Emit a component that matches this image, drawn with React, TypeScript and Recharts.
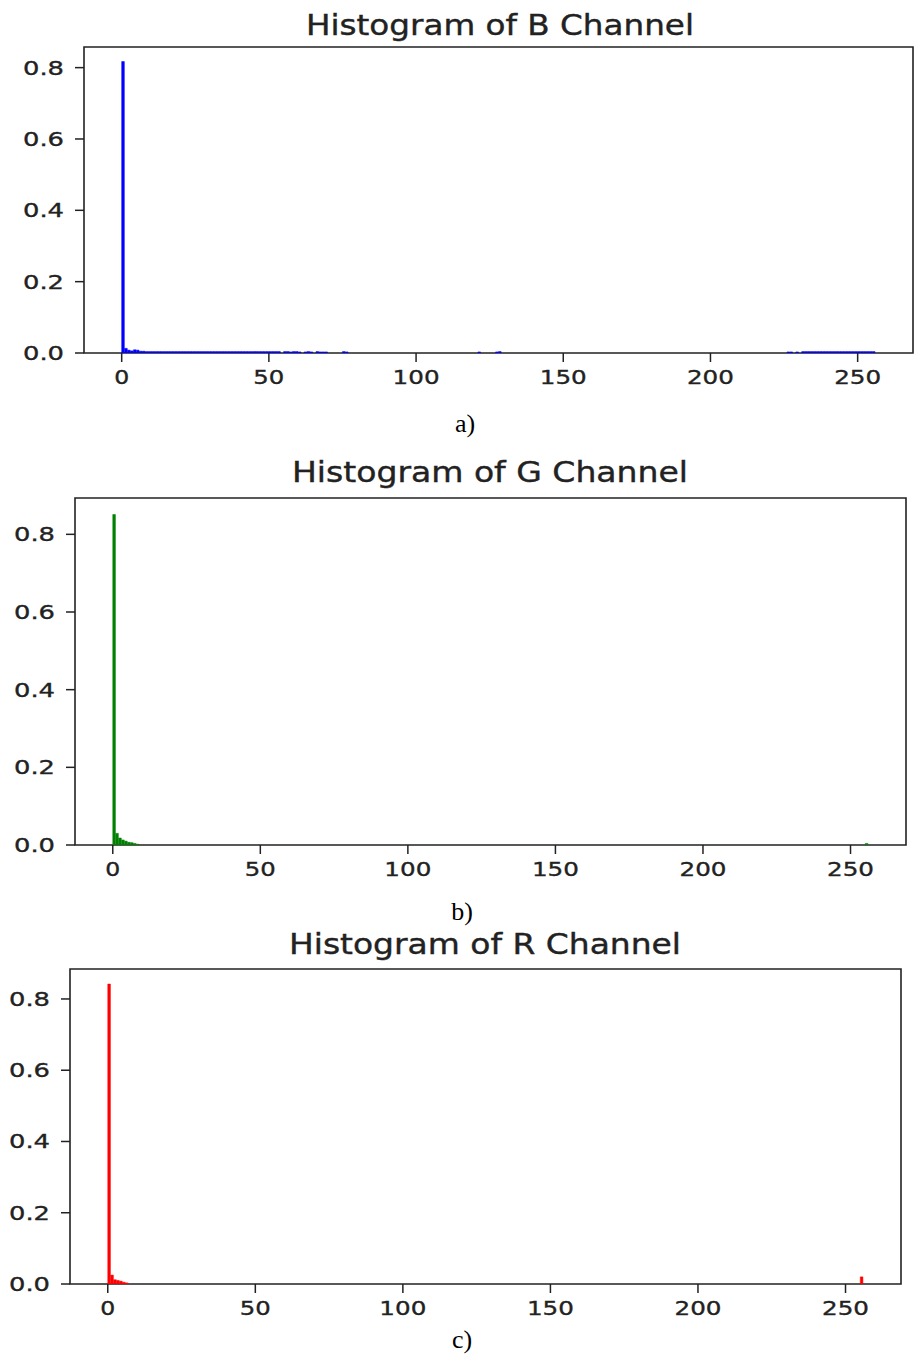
import React from "react";
import { BarChart, Bar, XAxis, YAxis, ReferenceArea } from "recharts";

// ---- data (normalized histogram values, bins are 0..255) ----
const xTicks = [0, 50, 100, 150, 200, 250];
const yTicks = [0, 0.2, 0.4, 0.6, 0.8];
const titles = ["Histogram of B Channel", "Histogram of G Channel", "Histogram of R Channel"];
const captions = ["a)", "b)", "c)"];

const binsB = [
  0, 1, 2, 3, 4, 5, 6, 7, 8, 9, 10, 11, 12, 13, 14, 15, 16, 17, 18, 19, 20, 21, 22, 23, 24, 25, 26, 27, 28, 29,
  30, 31, 32, 33, 34, 35, 36, 37, 38, 39, 40, 41, 42, 43, 44, 45, 46, 47, 48, 49, 50, 51, 52, 53,
  55, 56, 57, 58, 59, 60, 62, 63, 64, 66, 67, 68, 69, 75, 76, 121, 127, 128, 226, 227, 229,
  231, 232, 233, 234, 235, 236, 237, 238, 239, 240, 241, 242, 243, 244, 245, 246, 247, 248, 249, 250,
  251, 252, 253, 254, 255,
];
const valsB = [
  0.817, 0.013, 0.008, 0.006, 0.009, 0.008, 0.005, 0.005, 0.004, 0.004, 0.004, 0.004, 0.004, 0.004, 0.004, 0.004,
  0.004, 0.004, 0.004, 0.004, 0.004, 0.004, 0.004, 0.004, 0.004, 0.004, 0.004, 0.004, 0.004, 0.004,
  0.004, 0.004, 0.004, 0.004, 0.004, 0.004, 0.004, 0.004, 0.004, 0.004, 0.004, 0.004, 0.004, 0.004, 0.004, 0.004,
  0.004, 0.004, 0.004, 0.004, 0.004, 0.004, 0.004, 0.004,
  0.004, 0.004, 0.003, 0.004, 0.004, 0.003, 0.003, 0.004, 0.003, 0.004, 0.003, 0.003, 0.003, 0.004, 0.003,
  0.003, 0.003, 0.004, 0.003, 0.003, 0.003,
  0.004, 0.004, 0.004, 0.004, 0.004, 0.004, 0.004, 0.004, 0.004, 0.004, 0.004, 0.004, 0.004, 0.004, 0.004,
  0.004, 0.004, 0.004, 0.004, 0.004, 0.004, 0.004, 0.004, 0.004, 0.004,
];

const binsG = [0, 1, 2, 3, 4, 5, 6, 7, 8, 255];
const valsG = [0.851, 0.03, 0.018, 0.013, 0.01, 0.007, 0.006, 0.004, 0.002, 0.004];

const binsR = [0, 1, 2, 3, 4, 5, 6, 255];
const valsR = [0.842, 0.025, 0.012, 0.01, 0.008, 0.005, 0.003, 0.02];

const colors = ["#0000ff", "#008000", "#ff0000"];

function buildTable(bins: number[], vals: number[]) {
  const rows: { x: number; v: number }[] = [];
  for (let i = 0; i < 256; i++) rows.push({ x: i + 0.5, v: 0 });
  bins.forEach((b, k) => {
    rows[b].v = vals[k];
  });
  return rows;
}

const tables = [buildTable(binsB, valsB), buildTable(binsG, valsG), buildTable(binsR, valsR)];
const yMaxes = [Math.max(...valsB) * 1.05, Math.max(...valsG) * 1.05, Math.max(...valsR) * 1.05];

// ---- layout (pixel positions of each panel) ----
const panels = [
  { top: 0, height: 400, boxL: 84, boxR: 913, boxT: 47, boxB: 353, barSize: 3 },
  { top: 450, height: 430, boxL: 75, boxR: 906, boxT: 498, boxB: 845, barSize: 3 },
  { top: 920, height: 400, boxL: 70, boxR: 901, boxT: 969, boxB: 1284, barSize: 4 },
];
const titlePos = [
  { cx: 500, y: 35, w: 388 },
  { cx: 490, y: 482, w: 396 },
  { cx: 485, y: 954, w: 392 },
];
const captionPos = [
  { cx: 465, y: 432 },
  { cx: 462, y: 920 },
  { cx: 462, y: 1348 },
];

const INK = "#222";
const FONT = "DejaVu Sans";

const tickWidths: Record<string, number> = { "0": 15, "50": 31, "100": 47, "150": 47, "200": 47, "250": 47 };

const XTick = (props: any) => {
  const { x, y, payload } = props;
  const label = String(payload.value);
  return (
    <text x={x} y={y} dy={20} textAnchor="middle" fontFamily={FONT} fontSize={20} fill={INK}
      stroke={INK} strokeWidth={0.35} textLength={tickWidths[label]} lengthAdjust="spacingAndGlyphs">
      {label}
    </text>
  );
};

const YTick = (props: any) => {
  const { x, y, payload } = props;
  const label = Number(payload.value).toFixed(1);
  return (
    <text x={x} y={y} dy={7} textAnchor="end" fontFamily={FONT} fontSize={20} fill={INK}
      stroke={INK} strokeWidth={0.35} textLength={41} lengthAdjust="spacingAndGlyphs">
      {label}
    </text>
  );
};

const Panel = ({ idx }: { idx: number }) => {
  const p = panels[idx];
  const yMax = yMaxes[idx];
  return (
    <div style={{ position: "absolute", left: 0, top: p.top }}>
      <BarChart
        width={915}
        height={p.height}
        data={tables[idx]}
        margin={{ top: p.boxT - p.top, right: 915 - p.boxR, left: 0, bottom: 0 }}
        barCategoryGap={0}
        barGap={0}
      >
        <XAxis
          type="number"
          dataKey="x"
          domain={[-12.8, 268.8]}
          ticks={xTicks}
          allowDataOverflow
          axisLine={false}
          tickLine={{ stroke: INK, strokeWidth: 1.5 }}
          tickSize={9}
          tickMargin={2}
          tick={<XTick />}
          height={p.top + p.height - p.boxB}
          interval={0}
        />
        <YAxis
          type="number"
          domain={[0, yMax]}
          ticks={yTicks}
          allowDataOverflow
          axisLine={false}
          tickLine={{ stroke: INK, strokeWidth: 1.5 }}
          tickSize={9}
          tickMargin={11}
          tick={<YTick />}
          width={p.boxL}
          interval={0}
        />
        <ReferenceArea x1={-12.8} x2={268.8} y1={0} y2={yMax} fill="none" stroke={INK} strokeWidth={1.6} ifOverflow="visible" />
        <Bar dataKey="v" fill={colors[idx]} stroke={colors[idx]} strokeWidth={0.5} barSize={p.barSize} isAnimationActive={false} />
      </BarChart>
    </div>
  );
};

export default function App() {
  return (
    <div style={{ position: "absolute", left: 0, top: 0, width: 915, height: 1360, background: "#fff", overflow: "hidden" }}>
      {[0, 1, 2].map((i) => (
        <Panel key={i} idx={i} />
      ))}
      <svg width={915} height={1360} style={{ position: "absolute", left: 0, top: 0, pointerEvents: "none" }}>
        {titles.map((t, i) => (
          <text key={t} x={titlePos[i].cx} y={titlePos[i].y} textAnchor="middle" fontFamily={FONT} fontSize={29}
            fill={INK} stroke={INK} strokeWidth={0.4} textLength={titlePos[i].w} lengthAdjust="spacingAndGlyphs">
            {t}
          </text>
        ))}
        {captions.map((c, i) => (
          <text key={c} x={captionPos[i].cx} y={captionPos[i].y} textAnchor="middle" fontFamily="Liberation Serif"
            fontSize={26} fill="#000">
            {c}
          </text>
        ))}
      </svg>
    </div>
  );
}
